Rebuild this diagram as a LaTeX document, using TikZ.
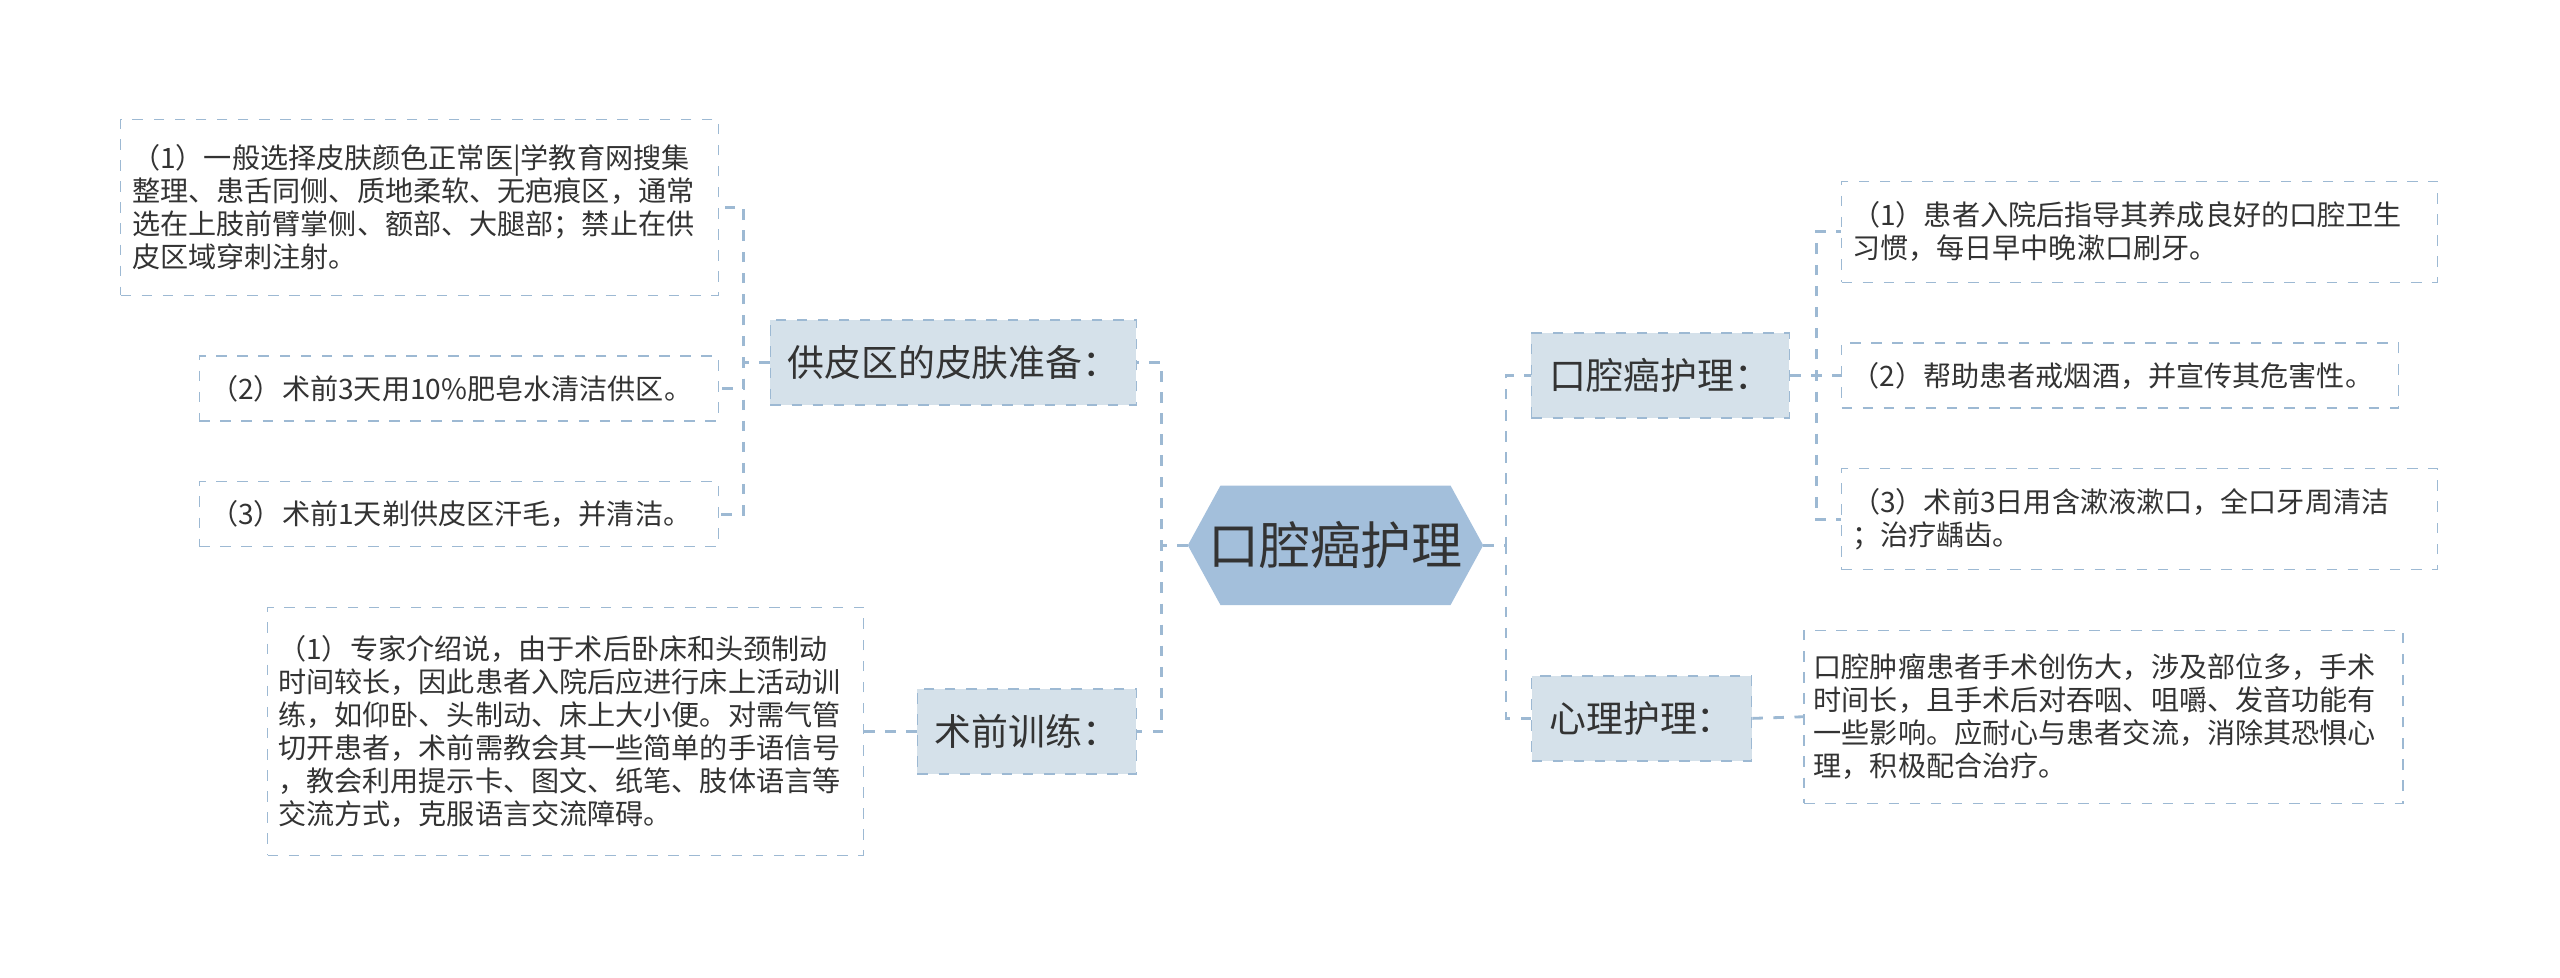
\documentclass[tikz,border=0pt]{standalone}
\usepackage{fontspec}
\setmainfont{Noto Sans CJK SC}
\usepackage{xcolor}
\usetikzlibrary{calc}
\definecolor{linec}{HTML}{9DB9D3}
\definecolor{rootc}{HTML}{A3BFDB}
\definecolor{branchc}{HTML}{D5E1EA}
\definecolor{textc}{HTML}{333333}
\tikzstyle{branch} = [rectangle, fill=branchc, draw=linec, dashed, inner sep=0pt, text=textc, font=\fontsize{10.5}{12}\selectfont]
\tikzstyle{leaf} = [rectangle, draw=linec, dashed, inner sep=0pt, align=left, text=textc, font=\fontsize{8}{9.4}\selectfont]
\tikzstyle{link} = [linec, dashed, thick]

\begin{document}
\begin{tikzpicture}[x=0.01633cm, y=-0.01633cm]
  \useasboundingbox (0,0) rectangle (1568,599);

  % Root
  \node (root) at (818,334) [minimum width=2.94cm, minimum height=1.18cm, inner sep=0pt] {};
  \fill [rootc] (root.west) -- ($(root.north west)+(20,0)$) -- ($(root.north east)+(-20,0)$) -- (root.east) -- ($(root.south east)+(-20,0)$) -- ($(root.south west)+(20,0)$) -- cycle;
  \node at (root) [text=textc, font=\fontsize{14.5}{16}\selectfont] {口腔癌护理};

  % Branches
  \node (skin) at (584,222) [branch, minimum width=3.66cm, minimum height=0.85cm] {供皮区的皮肤准备：};
  \node (train) at (629,448) [branch, minimum width=2.19cm, minimum height=0.85cm] {术前训练：};
  \node (care) at (1017,230) [branch, minimum width=2.58cm, minimum height=0.85cm] {口腔癌护理：};
  \node (mind) at (1005.5,440) [branch, minimum width=2.2cm, minimum height=0.85cm] {心理护理：};

  % Leaves
  \node (skin1) at (257,127) [leaf, minimum width=5.98cm, minimum height=1.76cm, text width=5.75cm] {（1）一般选择皮肤颜色正常医|学教育网搜集\\整理、患舌同侧、质地柔软、无疤痕区，通常\\选在上肢前臂掌侧、额部、大腿部；禁止在供\\皮区域穿刺注射。};
  \node (skin2) at (281,238) [leaf, minimum width=5.19cm, minimum height=0.65cm, text width=4.97cm] {（2）术前3天用10\%肥皂水清洁供区。};
  \node (skin3) at (281,315) [leaf, minimum width=5.19cm, minimum height=0.65cm, text width=4.97cm] {（3）术前1天剃供皮区汗毛，并清洁。};
  \node (train1) at (346.5,448) [leaf, minimum width=5.96cm, minimum height=2.48cm, text width=5.75cm] {（1）专家介绍说，由于术后卧床和头颈制动\\时间较长，因此患者入院后应进行床上活动训\\练，如仰卧、头制动、床上大小便。对需气管\\切开患者，术前需教会其一些简单的手语信号\\，教会利用提示卡、图文、纸笔、肢体语言等\\交流方式，克服语言交流障碍。};
  \node (care1) at (1310.5,142) [leaf, minimum width=5.96cm, minimum height=1.01cm, text width=5.75cm] {（1）患者入院后指导其养成良好的口腔卫生\\习惯，每日早中晚漱口刷牙。};
  \node (care2) at (1298.5,230) [leaf, minimum width=5.57cm, minimum height=0.65cm, text width=5.37cm] {（2）帮助患者戒烟酒，并宣传其危害性。};
  \node (care3) at (1310.5,318) [leaf, minimum width=5.96cm, minimum height=1.01cm, text width=5.75cm] {（3）术前3日用含漱液漱口，全口牙周清洁\\；治疗龋齿。};
  \node (mind1) at (1288.5,439) [leaf, minimum width=5.99cm, minimum height=1.73cm, text width=5.8cm] {口腔肿瘤患者手术创伤大，涉及部位多，手术\\时间长，且手术后对吞咽、咀嚼、发音功能有\\一些影响。应耐心与患者交流，消除其恐惧心\\理，积极配合治疗。};

  % Links
  \draw [link] (root.west) -- ++(-16,0) |- (skin.east);
  \draw [link] (root.west) -- ++(-16,0) |- (train.east);
  \draw [link] (root.east) -- ++(14,0) |- (care.west);
  \draw [link] (root.east) -- ++(14,0) |- (mind.west);
  \draw [link] (skin.west) -- ++(-16,0) |- (skin1.east);
  \draw [link] (skin.west) -- ++(-16,0) |- (skin2.east);
  \draw [link] (skin.west) -- ++(-16,0) |- (skin3.east);
  \draw [link] (train.west) -- (train1.east);
  \draw [link] (care.east) -- ++(16,0) |- (care1.west);
  \draw [link] (care.east) -- ++(16,0) |- (care2.west);
  \draw [link] (care.east) -- ++(16,0) |- (care3.west);
  \draw [link] (mind.east) -- (mind1.west);

\end{tikzpicture}
\end{document}
